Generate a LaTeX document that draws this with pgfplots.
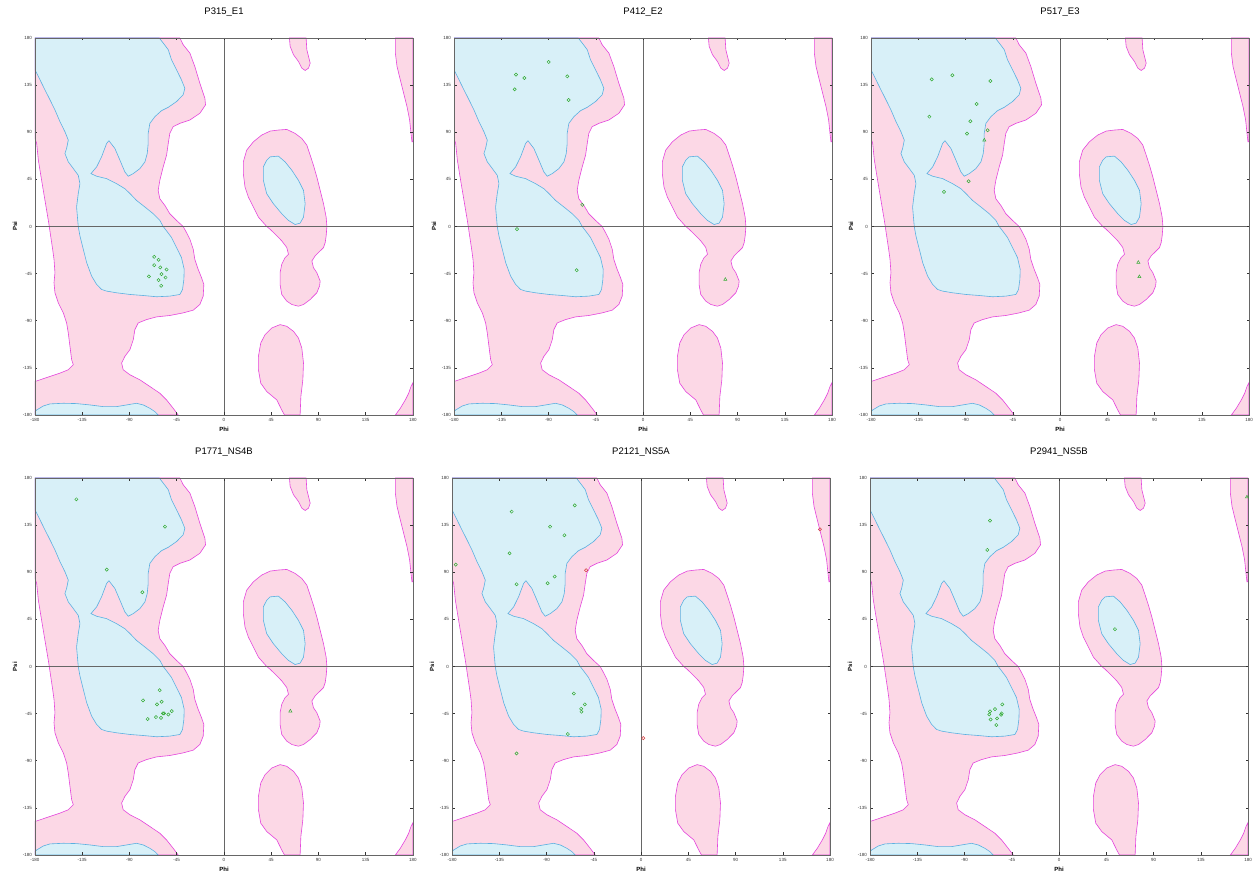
\documentclass[border=0pt]{standalone}
\usepackage{fontspec}
\setmainfont{Liberation Sans}
\usepackage{pgfplots}
\usepackage{pgfplotstable}
\pgfplotsset{compat=1.18}
\definecolor{pinkc}{RGB}{252,216,230}
\definecolor{magc}{RGB}{228,70,220}
\definecolor{bluec}{RGB}{216,240,248}
\definecolor{cyanc}{RGB}{90,176,224}
\definecolor{ptgreen}{RGB}{50,170,50}
\definecolor{ptred}{RGB}{210,60,60}

\pgfplotstableread{
x y
-180 180
-180 84
-178.4 79.3
-176.8 63.3
-173.7 44.1
-170.5 24.9
-167.3 5.8
-166.4 0
-165.1 -9.0
-163.2 -21.7
-161.9 -31.3
-161.0 -44.1
-161.9 -53.7
-161.0 -63.3
-157.8 -72.9
-153.0 -82.5
-149.9 -92.1
-148.3 -101.7
-146.7 -114.5
-145.1 -127.2
-143.5 -132.0
-148.3 -136.8
-156.2 -140.0
-165.7 -143.2
-175.2 -146.4
-180 -148.0
-180 -180
-43.6 -180
-48.4 -173.6
-54.7 -165.6
-61.1 -159.2
-70.6 -152.8
-80.1 -146.4
-89.6 -141.6
-96.0 -136.8
-97.5 -130.4
-94.4 -124.0
-89.6 -117.6
-86.4 -108.1
-84.9 -98.5
-81.7 -92.1
-73.8 -88.9
-64.2 -86.3
-51.6 -85.0
-38.9 -82.5
-29.3 -79.9
-23.0 -74.5
-19.8 -66.5
-19.2 -55.3
-21.4 -48.9
-24.6 -40.9
-27.8 -31.3
-29.3 -21.7
-32.5 -12.1
-35.7 -5.8
-38.9 0
-45.2 5.8
-51.6 12.2
-56.3 20.1
-61.1 26.5
-62.7 34.5
-61.1 44.1
-57.9 56.9
-54.7 68.1
-53.1 79.3
-51.6 88.9
-48.4 95.3
-42.0 98.5
-32.5 101.7
-23.0 108.1
-17.6 116.1
-18.2 122.5
-23.0 136.8
-27.8 152.8
-32.5 165.6
-38.9 173.6
-42.0 180
}\pinkA

\pgfplotstableread{
x y
-180 180
-61.7 180
-57.9 175.2
-53.1 168.8
-50.0 159.2
-45.2 149.6
-40.5 140.0
-37.3 132.0
-38.9 125.7
-45.2 119.3
-53.1 113.8
-59.5 110.6
-65.8 104.9
-70.6 98.5
-72.2 88.9
-72.2 79.3
-73.1 69.7
-75.3 61.7
-80.1 55.3
-86.4 50.5
-91.2 48.0
-94.4 52.1
-99.1 63.3
-103.9 74.5
-109.6 81.9
-111.8 79.3
-116.6 66.5
-121.3 56.9
-126.7 50.5
-121.3 48.0
-111.8 45.7
-102.3 40.9
-94.4 36.1
-89.6 31.5
-83.3 24.9
-75.3 18.6
-67.4 12.2
-61.1 5.8
-57.9 0
-54.7 -4.2
-50.0 -10.5
-45.2 -20.1
-40.5 -29.7
-37.9 -40.9
-38.2 -50.5
-39.5 -60.1
-42.0 -64.9
-51.6 -66.5
-64.2 -67.1
-76.9 -65.9
-89.6 -64.9
-102.3 -63.3
-111.8 -61.7
-116.6 -60.1
-121.3 -55.3
-126.1 -47.3
-130.8 -34.5
-134.0 -21.7
-137.2 -9.0
-138.8 0
-140.4 18.6
-138.8 31.5
-137.2 40.9
-138.8 48.9
-143.5 55.3
-148.3 61.7
-151.5 69.7
-149.9 74.5
-148.3 82.5
-151.5 90.5
-156.2 100.1
-161.0 111.3
-165.7 120.9
-170.5 130.4
-175.2 140.0
-180 149.6
}\blueA

\pgfplotstableread{
x y
-180 -180
-180 -176.8
-178.4 -175.2
-172.1 -171.4
-165.7 -169.4
-153.0 -168.8
-140.4 -169.1
-127.7 -170.4
-115.0 -172.0
-102.3 -172.0
-92.8 -170.4
-83.3 -168.8
-76.9 -170.4
-70.6 -173.6
-65.8 -176.8
-62.7 -180
}\blueB

\pgfplotstableread{
x y
51.8 92.1
59.8 92.7
67.7 88.9
74.1 84.1
78.9 77.7
82.1 68.1
85.2 58.5
88.4 47.3
91.6 34.5
94.8 21.7
97.3 8.9
98.0 0
97.3 -9.0
96.4 -15.3
94.8 -20.1
90.0 -24.9
86.8 -28.1
83.7 -32.9
85.2 -39.3
88.4 -44.1
91.6 -52.1
91.0 -56.9
88.4 -63.3
82.1 -69.7
75.7 -74.5
70.9 -76.1
64.6 -74.5
59.8 -71.3
55.0 -64.9
53.4 -55.3
53.4 -44.1
55.0 -36.1
58.2 -29.7
61.4 -26.5
59.8 -20.1
55.0 -13.7
48.7 -7.3
43.9 -2.6
40.7 0
32.8 8.9
28.0 18.6
23.2 28.1
20.0 37.7
18.4 50.5
18.4 61.7
21.6 72.9
28.0 80.9
35.9 87.3
43.9 91.1
}\pinkL

\pgfplotstableread{
x y
43.9 66.5
51.8 67.2
58.2 61.7
64.6 53.7
70.9 44.1
75.7 34.5
77.3 21.7
75.7 8.9
72.5 3.2
67.7 1.9
61.4 5.8
55.0 12.2
47.1 21.7
40.7 31.3
37.5 44.1
37.5 56.9
40.7 63.3
}\blueL

\pgfplotstableread{
x y
62.3 180
63.0 172.0
66.2 164.0
70.9 157.6
74.1 151.2
77.3 149.0
80.5 151.2
82.1 156.0
80.5 162.4
78.9 168.8
78.2 180
}\pinkTop

\pgfplotstableread{
x y
57.6 -180
55.0 -175.2
50.3 -165.6
40.7 -157.6
35.0 -149.6
32.8 -136.8
32.8 -124.0
35.0 -111.3
39.1 -103.3
45.5 -96.9
53.4 -93.7
59.8 -95.3
66.2 -100.1
70.9 -106.5
74.1 -116.0
75.7 -130.4
75.1 -146.4
73.2 -162.4
72.5 -180
}\pinkBot

\pgfplotstableread{
x y
163.2 180
163.2 165.6
164.8 152.8
167.9 140.0
171.1 127.3
174.3 114.5
176.8 101.7
178.1 88.9
179.0 80.9
180 80.9
180 180
}\pinkRT

\pgfplotstableread{
x y
163.2 -180
167.9 -173.6
172.7 -165.6
175.9 -159.2
178.1 -152.8
180 -149.0
180 -180
}\pinkRB

\pgfplotsset{
  rama/.style={
    scale only axis, width=378pt, height=377pt,
    anchor=south west,
    xmin=-180, xmax=180, ymin=-180, ymax=180,
    xtick={-180,-135,-90,-45,0,45,90,135,180},
    ytick={-180,-135,-90,-45,0,45,90,135,180},
    tick align=inside, major tick length=2.5pt,
    tick style={black!80, line width=0.5pt},
    axis line style={draw=black!60, line width=0.8pt},
    ticklabel style={font=\fontsize{4.5}{5}\selectfont, text=black!80},
    xticklabel style={yshift=0.5pt},
    yticklabel style={xshift=0.5pt},
    /pgf/number format/assume math mode=true,
    xlabel={Phi}, ylabel={Psi},
    xlabel style={font=\fontsize{6}{7}\selectfont\bfseries, at={(axis description cs:0.5,-0.037)}, anchor=center},
    ylabel style={font=\fontsize{6}{7}\selectfont\bfseries, at={(axis description cs:-0.053,0.5)}, anchor=center},
    title style={font=\fontsize{9.5}{11}\selectfont, at={(axis description cs:0.5,1.053)}, anchor=center},
    axis on top,
  },
  pinkreg/.style={fill=pinkc, draw=magc, line width=0.6pt},
  bluereg/.style={fill=bluec, draw=cyanc, line width=0.6pt},
  cline/.style={black!60, line width=0.8pt},
  gpt/.style={only marks, mark=o, mark size=1.6pt, ptgreen, line width=0.5pt},
  gtri/.style={only marks, mark=triangle, mark size=1.8pt, ptgreen, line width=0.5pt},
  rpt/.style={only marks, mark=o, mark size=1.6pt, ptred, line width=0.5pt},
}

\newcommand{\regions}{%
  \addplot[pinkreg] table {\pinkA} -- cycle;
  \addplot[pinkreg] table {\pinkL} -- cycle;
  \addplot[pinkreg] table {\pinkTop} -- cycle;
  \addplot[pinkreg] table {\pinkBot} -- cycle;
  \addplot[pinkreg] table {\pinkRT} -- cycle;
  \addplot[pinkreg] table {\pinkRB} -- cycle;
  \addplot[bluereg] table {\blueA} -- cycle;
  \addplot[bluereg] table {\blueB} -- cycle;
  \addplot[bluereg] table {\blueL} -- cycle;
  \addplot[cline] coordinates {(0,-180) (0,180)};
  \addplot[cline] coordinates {(-180,0) (180,0)};
}

\begin{document}
\begin{tikzpicture}
\useasboundingbox (0,0) rectangle (1254pt,873pt);

\begin{axis}[rama, at={(35pt,458pt)}, title={P315\_E1}]
\regions
\addplot[gpt] coordinates {(-66.5,-29.0) (-62.3,-31.8) (-66.5,-36.9) (-60.7,-39.1) (-54.7,-41.1) (-59.5,-45.5) (-71.5,-47.7) (-55.7,-48.7) (-62.3,-51.2) (-59.8,-56.6)};
\end{axis}

\begin{axis}[rama, at={(454pt,458pt)}, title={P412\_E2}]
\regions
\addplot[gpt] coordinates {(-89.8,157.1) (-121.0,145.0) (-113.0,141.8) (-72.1,143.4) (-122.2,131.0) (-70.8,120.8) (-57.8,20.7) (-120.0,-2.5) (-63.2,-41.7)};
\addplot[gtri] coordinates {(78.4,-50.6)};
\end{axis}

\begin{axis}[rama, at={(871pt,458pt)}, title={P517\_E3}]
\regions
\addplot[gpt] coordinates {(-122.2,140.5) (-102.5,144.4) (-66.3,138.9) (-79.4,117.0) (-124.4,104.9) (-85.4,100.5) (-88.6,88.7) (-68.9,91.9) (-87.0,43.2) (-110.5,33.1)};
\addplot[gtri] coordinates {(-72.1,82.4) (74.6,-34.3) (75.6,-48.0)};
\end{axis}

\begin{axis}[rama, at={(35pt,18pt)}, title={P1771\_NS4B}]
\regions
\addplot[gpt] coordinates {(-140.6,159.6) (-56.2,133.5) (-111.7,92.5) (-77.8,70.9) (-61.3,-22.6) (-77.1,-32.4) (-63.8,-36.2) (-59.4,-33.7) (-58.1,-44.8) (-57.1,-44.8) (-49.8,-42.6) (-53.0,-45.8) (-64.8,-48.3) (-72.7,-50.2) (-60.0,-49.0)};
\addplot[gtri] coordinates {(63.2,-42.6)};
\end{axis}

\begin{axis}[rama, at={(452pt,18pt)}, title={P2121\_NS5A}]
\regions
\addplot[gpt] coordinates {(-63.1,153.9) (-123.2,147.9) (-86.6,133.5) (-72.9,125.3) (-125.2,108.1) (-176.4,97.3) (-82.2,85.9) (-88.9,79.5) (-118.5,78.5) (-64.0,-25.8) (-53.5,-36.2) (-57.0,-40.4) (-56.7,-43.2) (-69.7,-64.5) (-118.5,-83.0)};
\addplot[rpt] coordinates {(-52.2,91.9) (2.2,-68.4) (170.4,131.0)};
\end{axis}

\begin{axis}[rama, at={(870pt,18pt)}, title={P2941\_NS5B}]
\regions
\addplot[gpt] coordinates {(-65.7,139.3) (-68.3,111.3) (53.3,35.6) (-54.0,-36.2) (-61.0,-40.7) (-65.7,-42.9) (-66.4,-45.8) (-54.6,-44.8) (-55.2,-46.1) (-65.1,-50.6) (-59.0,-49.6) (-59.7,-55.9)};
\addplot[gtri] coordinates {(179.0,161.8)};
\end{axis}
\end{tikzpicture}
\end{document}
